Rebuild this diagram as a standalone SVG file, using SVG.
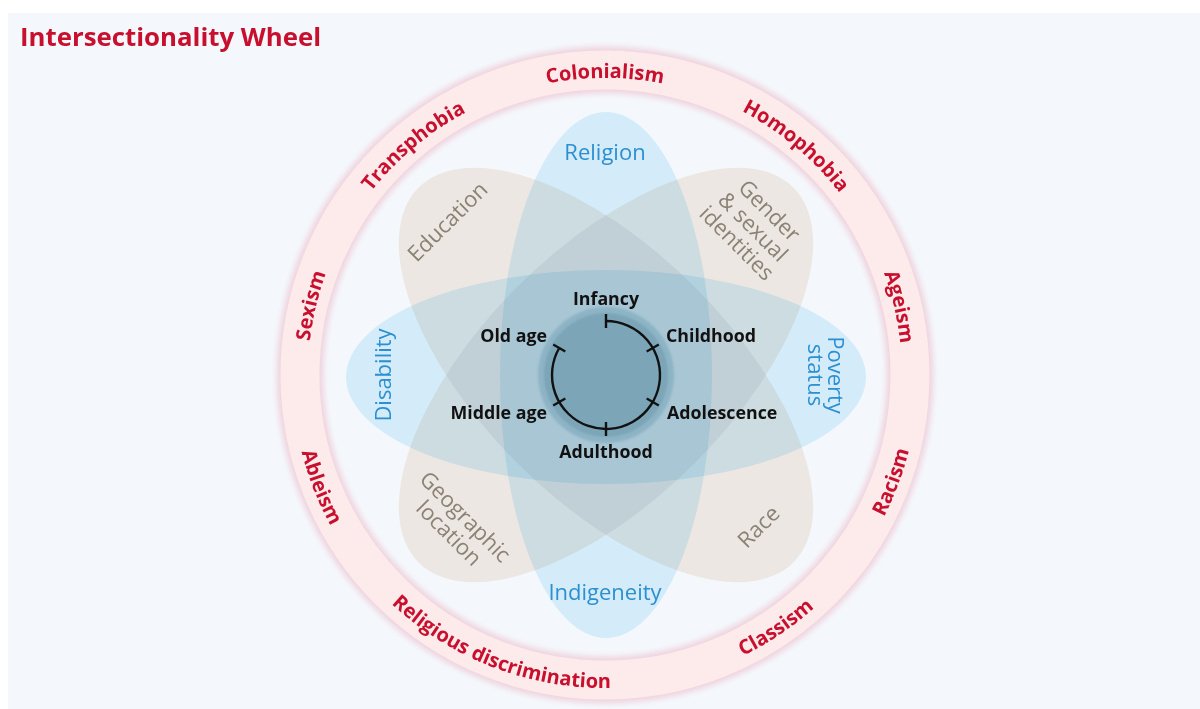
<svg xmlns="http://www.w3.org/2000/svg" width="1200" height="709" viewBox="0 0 1200 709">
  <defs>
    <style>
      .ring-label{font-family:'Open Sans','Noto Sans',sans-serif;font-weight:700;font-size:20px;fill:#c8102e}
      .title{font-family:'Open Sans','Noto Sans',sans-serif;font-weight:700;font-size:25.8px;fill:#c8102e}
      .blue-lbl{font-family:'Open Sans','Noto Sans',sans-serif;font-weight:400;font-size:22px;fill:#2b8fd0}
      .beige-lbl{font-family:'Open Sans','Noto Sans',sans-serif;font-weight:400;font-size:22px;fill:#8b8275}
      .stage{font-family:'Open Sans','Noto Sans',sans-serif;font-weight:700;font-size:17.8px;fill:#111111}
      .petal-blue{fill:#def3fd;mix-blend-mode:multiply}
      .petal-beige{fill:#ece7e2;mix-blend-mode:darken}
      .beige-overlap{fill:#f0f2f4;mix-blend-mode:multiply}
      .tick{stroke:#111111;stroke-width:2.4;fill:none}
    </style>
    <filter id="soft" x="-20%" y="-20%" width="140%" height="140%">
      <feGaussianBlur stdDeviation="3"/>
    </filter>
    <filter id="soft2" x="-20%" y="-20%" width="140%" height="140%">
      <feGaussianBlur stdDeviation="1.2"/>
    </filter>
    <clipPath id="clipGeo">
      <path d="M418.6,562.4 A265,125 -45 1 1 793.4,187.6 A265,125 -45 1 1 418.6,562.4 Z"/>
    </clipPath>
    <path id="ringUp" d="M308,375 A297,297 0 1 1 902,375 A297,297 0 1 1 308,375"/>
    <path id="ringDown" d="M292,375 A313,313 0 1 0 918,375 A313,313 0 1 0 292,375"/>
  </defs>

  <rect x="0" y="0" width="1200" height="709" fill="#ffffff"/>
  <rect x="8" y="13" width="1192" height="696" fill="#f4f8fc"/>

  <text class="title" x="20" y="46">Intersectionality Wheel</text>

  <!-- outer ring -->
  <g id="ring">
    <circle cx="605" cy="375" r="305" fill="none" stroke="#efd0dc" stroke-width="46" filter="url(#soft)"/>
    <circle cx="605" cy="375" r="305" fill="none" stroke="#fdeaea" stroke-width="39"/>
  </g>

  <g id="ring-labels">
    <g id="sexism"><text class="ring-label" text-anchor="middle"><textPath href="#ringUp" startOffset="68.9">Sexism</textPath></text></g>
    <g id="transphobia"><text class="ring-label" text-anchor="middle"><textPath href="#ringUp" startOffset="259.7">Transphobia</textPath></text></g>
    <g id="colonialism"><text class="ring-label" text-anchor="middle"><textPath href="#ringUp" startOffset="466.5">Colonialism</textPath></text></g>
    <g id="homophobia"><text class="ring-label" text-anchor="middle"><textPath href="#ringUp" startOffset="672.8">Homophobia</textPath></text></g>
    <g id="ageism"><text class="ring-label" text-anchor="middle"><textPath href="#ringUp" startOffset="865.1">Ageism</textPath></text></g>
    <g id="ableism"><text class="ring-label" text-anchor="middle"><textPath href="#ringDown" startOffset="117.5">Ableism</textPath></text></g>
    <g id="religious-discrimination"><text class="ring-label" text-anchor="middle"><textPath href="#ringDown" startOffset="376.9">Religious discrimination</textPath></text></g>
    <g id="classism"><text class="ring-label" text-anchor="middle"><textPath href="#ringDown" startOffset="677.4">Classism</textPath></text></g>
    <g id="racism"><text class="ring-label" text-anchor="middle"><textPath href="#ringDown" startOffset="871.3">Racism</textPath></text></g>
  </g>

  <!-- petals -->
  <g id="petals">
    <path id="petal-education-race" class="petal-beige" d="M418.6,187.6 A265,125 45 1 1 793.4,562.4 A265,125 45 1 1 418.6,187.6 Z"/>
    <path id="petal-gender-geographic" class="petal-beige" d="M418.6,562.4 A265,125 -45 1 1 793.4,187.6 A265,125 -45 1 1 418.6,562.4 Z"/>
    <path id="beige-overlap" class="beige-overlap" clip-path="url(#clipGeo)" d="M418.6,187.6 A265,125 45 1 1 793.4,562.4 A265,125 45 1 1 418.6,187.6 Z"/>
    <ellipse id="petal-religion-indigeneity" class="petal-blue" cx="606" cy="375" rx="106" ry="263"/>
    <ellipse id="petal-disability-poverty" class="petal-blue" cx="606" cy="377" rx="260" ry="107"/>
  </g>

  <g id="petal-labels">
    <g id="religion"><text class="blue-lbl" x="605" y="160" text-anchor="middle">Religion</text></g>
    <g id="indigeneity"><text class="blue-lbl" x="605" y="600" text-anchor="middle">Indigeneity</text></g>
    <g id="disability"><text class="blue-lbl" transform="translate(384,375) rotate(-90)" x="0" y="7" text-anchor="middle">Disability</text></g>
    <g id="poverty"><text class="blue-lbl" transform="translate(825,375) rotate(90)" text-anchor="middle"><tspan x="0" y="-3">Poverty</tspan><tspan x="0" y="17">status</tspan></text></g>
    <g id="education"><text class="beige-lbl" transform="translate(448,222) rotate(-45)" x="0" y="7" text-anchor="middle">Education</text></g>
    <g id="race"><text class="beige-lbl" transform="translate(759,527) rotate(-45)" x="0" y="7" text-anchor="middle">Race</text></g>
    <g id="gender"><text class="beige-lbl" transform="translate(752,228) rotate(45)" text-anchor="middle"><tspan x="0" y="-17">Gender</tspan><tspan x="0" y="6">&amp; sexual</tspan><tspan x="0" y="29">identities</tspan></text></g>
    <g id="geographic"><text class="beige-lbl" transform="translate(456,526) rotate(45)" text-anchor="middle"><tspan x="0" y="-5.5">Geographic</tspan><tspan x="0" y="17.5">location</tspan></text></g>
  </g>

  <!-- life-course centre -->
  <g id="centre">
    <circle cx="606" cy="375" r="68" fill="#8db4c5" filter="url(#soft2)"/>
    <circle cx="606" cy="375" r="62" fill="#7ca6b8" filter="url(#soft2)"/>
  </g>

  <g id="connectors">
    <path class="tick" d="M606,321 A54,54 0 1 1 559.23,348"/>
    <line class="tick" x1="606" y1="328" x2="606" y2="314"/>
    <line class="tick" x1="646.7" y1="351.5" x2="658.8" y2="344.5"/>
    <line class="tick" x1="646.7" y1="398.5" x2="658.8" y2="405.5"/>
    <line class="tick" x1="606" y1="422" x2="606" y2="436"/>
    <line class="tick" x1="565.3" y1="398.5" x2="553.2" y2="405.5"/>
    <line class="tick" x1="565.3" y1="351.5" x2="553.2" y2="344.5"/>
  </g>

  <g id="stages">
    <g id="infancy"><text class="stage" x="606" y="305" text-anchor="middle">Infancy</text></g>
    <g id="childhood"><text class="stage" x="666" y="342">Childhood</text></g>
    <g id="adolescence"><text class="stage" x="667" y="419">Adolescence</text></g>
    <g id="adulthood"><text class="stage" x="606" y="458" text-anchor="middle">Adulthood</text></g>
    <g id="middle-age"><text class="stage" x="547" y="419" text-anchor="end">Middle age</text></g>
    <g id="old-age"><text class="stage" x="547" y="342" text-anchor="end">Old age</text></g>
  </g>
</svg>
